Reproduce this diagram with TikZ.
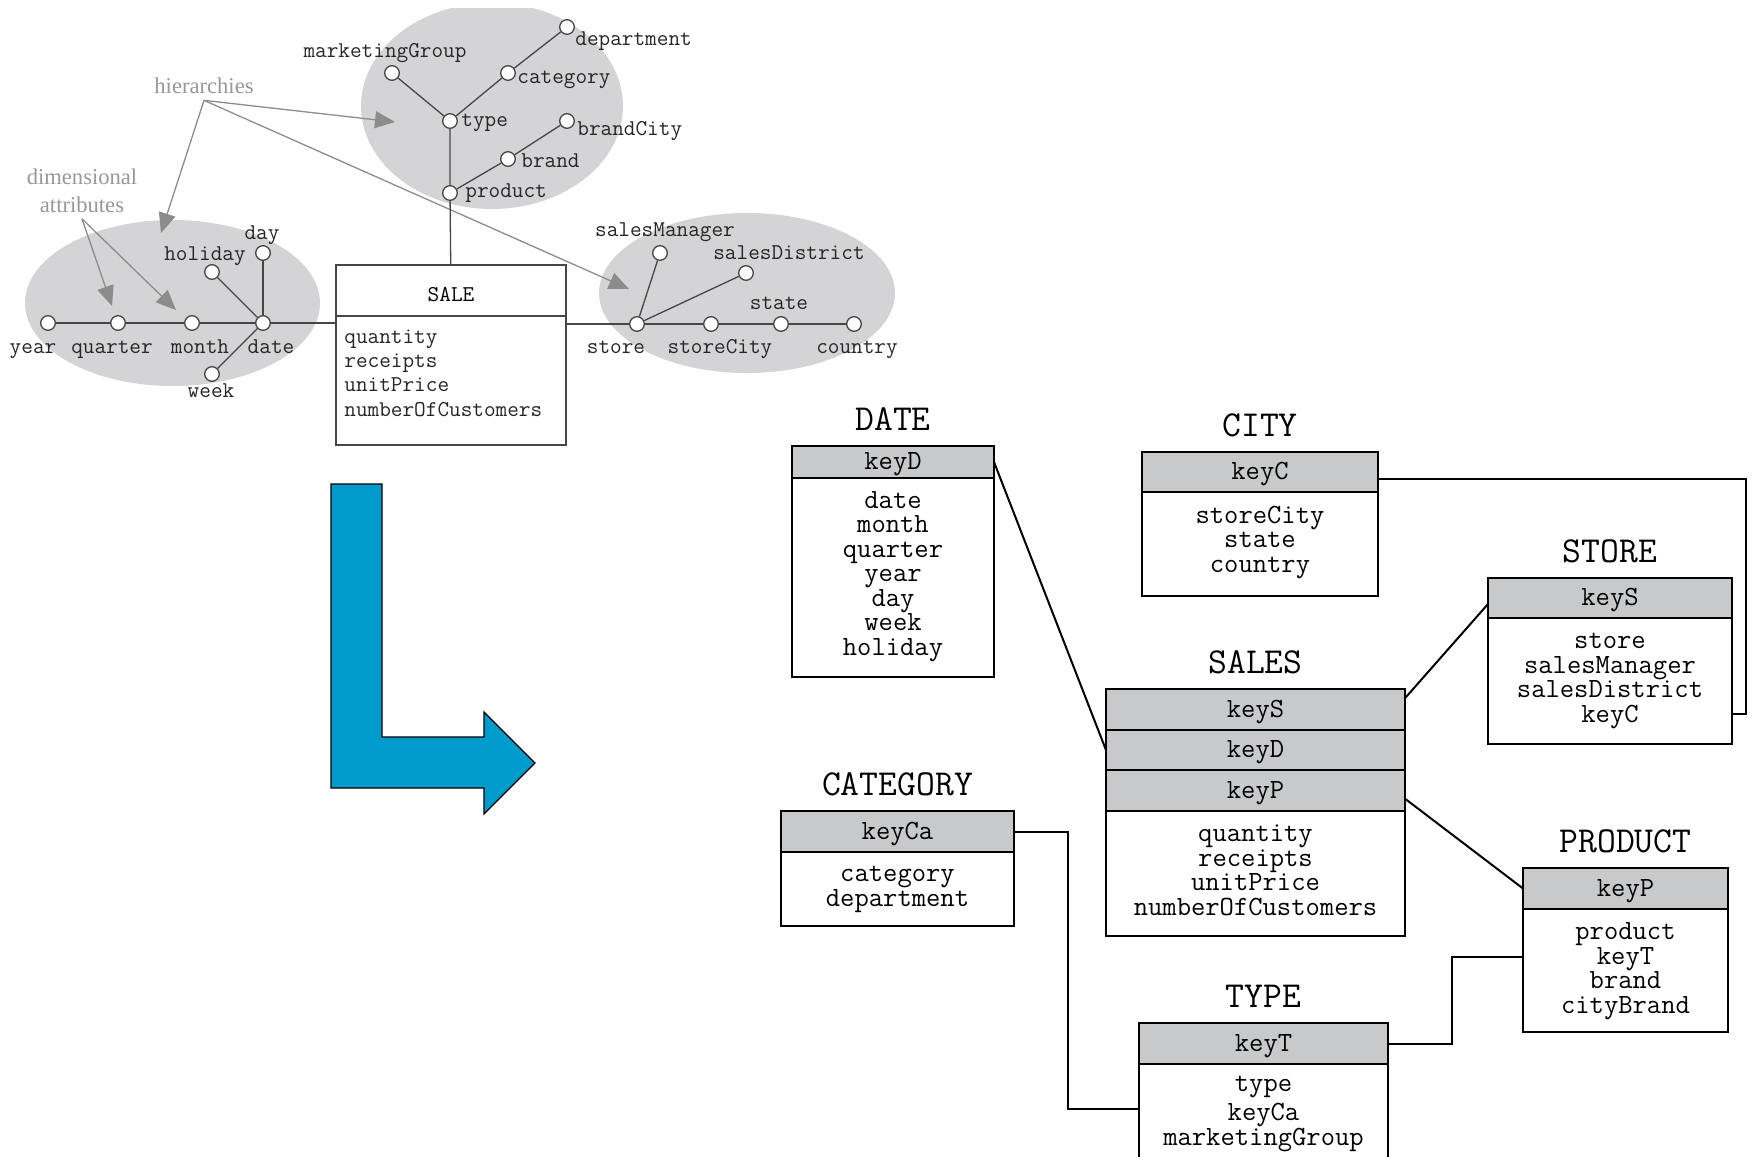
\documentclass[tikz,border=0pt]{standalone}
\usepackage{fontspec}
\newfontfamily\notefont{Liberation Serif}
\usetikzlibrary{arrows.meta, positioning}

\definecolor{blobgrey}{RGB}{212,212,214}
\definecolor{keygrey}{RGB}{200,201,203}
\definecolor{notegrey}{RGB}{152,152,152}
\definecolor{treegrey}{RGB}{70,70,70}
\definecolor{arrowblue}{RGB}{0,154,205}

\tikzset{
  attr/.style={circle, draw=treegrey, fill=white, line width=0.65pt, inner sep=0pt, minimum size=7.3pt},
  lbl/.style={font=\ttfamily\fontsize{11.3}{12.15}\selectfont, text=black!85, inner sep=0pt},
  tree/.style={draw=treegrey, line width=0.65pt},
  note/.style={font=\notefont\fontsize{11.3}{14}\selectfont, text=notegrey, align=center, inner sep=3pt},
  noteline/.style={draw=notegrey!92!black, line width=0.65pt, -{Triangle[length=10pt,width=8.5pt]}},
  keyrow/.style={draw, fill=keygrey, line width=1pt, inner sep=0pt, outer sep=0pt, text height=10.5pt, text depth=3pt, font=\ttfamily\fontsize{13.9}{12.25}\selectfont},
  rows/.style={draw, fill=white, line width=1pt, inner sep=0pt, outer sep=0pt, anchor=north},
  rowtext/.style={inner sep=0pt, anchor=base, align=center, font=\ttfamily\fontsize{13.9}{12.25}\selectfont},
  tabname/.style={inner sep=0pt, font=\ttfamily\fontsize{18.3}{18}\selectfont},
  link/.style={line width=1pt}
}

\begin{document}
\begin{tikzpicture}[x=0.5pt, y=-0.5pt]
    \useasboundingbox (0,0) rectangle (1758,1157);

    % grey hierarchy blobs
    \begin{scope}
        \clip (0,8) rectangle (1758,1157);
        \fill[blobgrey] (492,106) ellipse [x radius=131, y radius=103];
    \end{scope}
    \fill[blobgrey] (172.5,303) ellipse [x radius=147.5, y radius=83];
    \fill[blobgrey] (747,293) ellipse [x radius=148, y radius=80];

    % SALE fact
    \node[draw=treegrey, line width=0.65pt, outer sep=0pt, minimum width=115pt, minimum height=25.5pt, text height=11.4pt, font=\ttfamily\fontsize{11.3}{12}\selectfont] (saleHead) at (451,290.5) {SALE};
    \node[draw=treegrey, line width=0.65pt, outer sep=0pt, minimum width=115pt, minimum height=64.5pt, anchor=north] (saleBody) at (saleHead.south) {};
    \node[lbl, align=left, anchor=base west] (saleMeas) at (344,416) {quantity\\receipts\\unitPrice\\numberOfCustomers};

    % notes
    \node[note] (hier) at (204,86) {hierarchies};
    \node[note] (dimAttr) at (82,190.5) {dimensional\\attributes};
    \coordinate (hierProd) at (395,122);
    \coordinate (hierDate) at (161,233);
    \coordinate (hierStore) at (629,289);
    \coordinate (dimQuarter) at (112,306);
    \coordinate (dimMonth) at (176,310);
    \draw[noteline] (hier.south) -- (hierProd);
    \draw[noteline] (hier.south) -- (hierDate);
    \draw[noteline] (hier.south) -- (hierStore);
    \draw[noteline] (dimAttr.south) -- (dimQuarter);
    \draw[noteline] (dimAttr.south) -- (dimMonth);

    % date hierarchy
    \node[attr] (year) at (48,323) {};
    \node[attr] (quarter) at (118,323) {};
    \node[attr] (month) at (192,323) {};
    \node[attr] (date) at (263,323) {};
    \node[attr] (holiday) at (212,272) {};
    \node[attr] (day) at (263,253) {};
    \node[attr] (week) at (212,374) {};
    \draw[tree] (year) -- (quarter) -- (month) -- (date);
    \draw[tree] (holiday) -- (date);
    \draw[tree] (day) -- (date);
    \draw[tree] (week) -- (date);
    \draw[tree] (date) -- (date -| saleBody.west);
    \node[lbl, anchor=base] (yearTxt) at (33,353) {year};
    \node[lbl, anchor=base] (quarterTxt) at (112,353) {quarter};
    \node[lbl, anchor=base] (monthTxt) at (200,353) {month};
    \node[lbl, anchor=base] (dateTxt) at (271,353) {date};
    \node[lbl] (holidayTxt) at (205,256) {holiday};
    \node[lbl] (dayTxt) at (262,235) {day};
    \node[lbl] (weekTxt) at (211,391) {week};

    % product hierarchy
    \node[attr] (product) at (450,193) {};
    \node[attr] (type) at (450,121) {};
    \node[attr] (marketingGroup) at (392,73) {};
    \node[attr] (category) at (508,73) {};
    \node[attr] (department) at (567,27) {};
    \node[attr] (brand) at (508,159) {};
    \node[attr] (brandCity) at (567,121) {};
    \draw[tree] (saleHead) -- (product) -- (type) -- (marketingGroup);
    \draw[tree] (type) -- (category) -- (department);
    \draw[tree] (product) -- (brand) -- (brandCity);
    \node[lbl] (marketingGroupTxt) at (385,53) {marketingGroup};
    \node[lbl, anchor=west] (departmentTxt) at (575,41) {department};
    \node[lbl, anchor=west] (categoryTxt) at (517,80) {category};
    \node[lbl, anchor=west] (typeTxt) at (461,123) {type};
    \node[lbl, anchor=west] (brandCityTxt) at (577,131) {brandCity};
    \node[lbl, anchor=west] (brandTxt) at (521,161) {brand};
    \node[lbl, anchor=west] (productTxt) at (465,193) {product};

    % store hierarchy
    \node[attr] (store) at (637,324) {};
    \node[attr] (storeCity) at (711,324) {};
    \node[attr] (state) at (781,324) {};
    \node[attr] (country) at (854,324) {};
    \node[attr] (salesManager) at (660,253) {};
    \node[attr] (salesDistrict) at (746,273) {};
    \draw[tree] (store) -- (storeCity) -- (state) -- (country);
    \draw[tree] (store) -- (salesManager);
    \draw[tree] (store) -- (salesDistrict);
    \draw[tree] (store) -- (store -| saleBody.east);
    \node[lbl] (salesManagerTxt) at (665,232) {salesManager};
    \node[lbl] (salesDistrictTxt) at (789,253) {salesDistrict};
    \node[lbl] (stateTxt) at (779,303) {state};
    \node[lbl, anchor=base] (storeTxt) at (616,353) {store};
    \node[lbl, anchor=base] (storeCityTxt) at (720,353) {storeCity};
    \node[lbl, anchor=base] (countryTxt) at (857,353) {country};

    % blue arrow
    \draw[fill=arrowblue, line width=0.6pt] (331,484) -- (382,484) -- (382,737) -- (484,737) -- (484,712)
        -- (535,763) -- (484,814) -- (484,788) -- (331,788) -- cycle;

    % DATE
    \node[keyrow, minimum width=101pt, minimum height=16pt] (dateKey) at (893,462) {keyD};
    \node[rows, minimum width=101pt, minimum height=99.5pt] (dateBody) at (dateKey.south) {};
    \node[rowtext] (dateAttr) at (893,655) {date\\month\\quarter\\year\\day\\week\\holiday};
    \node[tabname, above=7.5pt of dateKey] (dateName) {DATE};

    % CITY
    \node[keyrow, minimum width=118pt, minimum height=20pt] (cityKey) at (1260,472) {keyC};
    \node[rows, minimum width=118pt, minimum height=52pt] (cityBody) at (cityKey.south) {};
    \node[rowtext] (cityAttr) at (1260,572) {storeCity\\state\\country};
    \node[tabname, above=7.5pt of cityKey] (cityName) {CITY};

    % STORE
    \node[keyrow, minimum width=122pt, minimum height=20pt] (storeKey) at (1610,598) {keyS};
    \node[rows, minimum width=122pt, minimum height=63pt] (storeBody) at (storeKey.south) {};
    \node[rowtext] (storeAttr) at (1610,722) {store\\salesManager\\salesDistrict\\keyC};
    \node[tabname, above=7.5pt of storeKey] (storeName) {STORE};

    % SALES
    \node[keyrow, minimum width=149.5pt, minimum height=20.3pt] (salesKeyS) at (1255.5,709.5) {keyS};
    \node[keyrow, minimum width=149.5pt, minimum height=20.3pt, below=0pt of salesKeyS] (salesKeyD) {keyD};
    \node[keyrow, minimum width=149.5pt, minimum height=20.3pt, below=0pt of salesKeyD] (salesKeyP) {keyP};
    \node[rows, minimum width=149.5pt, minimum height=62.5pt] (salesBody) at (salesKeyP.south) {};
    \node[rowtext] (salesAttr) at (1255.5,915) {quantity\\receipts\\unitPrice\\numberOfCustomers};
    \node[tabname, above=7.5pt of salesKeyS] (salesName) {SALES};

    % CATEGORY
    \node[keyrow, minimum width=116.5pt, minimum height=20.5pt] (catKey) at (897.5,831.5) {keyCa};
    \node[rows, minimum width=116.5pt, minimum height=37pt] (catBody) at (catKey.south) {};
    \node[rowtext] (catAttr) at (897.5,906) {category\\department};
    \node[tabname, above=7.5pt of catKey] (catName) {CATEGORY};

    % PRODUCT
    \node[keyrow, minimum width=102.5pt, minimum height=20.5pt] (prodKey) at (1625.5,888.5) {keyP};
    \node[rows, minimum width=102.5pt, minimum height=61.5pt] (prodBody) at (prodKey.south) {};
    \node[rowtext] (prodAttr) at (1625.5,1013) {product\\keyT\\brand\\cityBrand};
    \node[tabname, above=7.5pt of prodKey] (prodName) {PRODUCT};

    % TYPE
    \node[keyrow, minimum width=124.5pt, minimum height=20.5pt] (typeKey) at (1263.5,1043.5) {keyT};
    \node[rows, minimum width=124.5pt, minimum height=50pt] (typeBody) at (typeKey.south) {};
    \node[rowtext] (typeAttr) at (1263.5,1145) {type\\[2.25pt]keyCa\\marketingGroup};
    \node[tabname, above=7.5pt of typeKey] (typeName) {TYPE};

    % foreign keys
    \coordinate (storeKeyC) at (1732,714);
    \coordinate (typeKeyCa) at (1139,1109);
    \coordinate (prodKeyT) at (1523,957);
    \draw[link] (dateKey.east) -- (salesKeyD.west);
    \draw[link] ([yshift=-3.5pt]cityKey.east) -- ++(368,0) |- (storeKeyC);
    \draw[link] ([yshift=-4.5pt]salesKeyS.north east) -- ([yshift=-3pt]storeKey.west);
    \draw[link] ([yshift=-4pt]salesKeyP.east) -- (prodKey.west);
    \draw[link] (catKey.east) -- ++(54,0) |- (typeKeyCa);
    \draw[link] (typeKey.east) -- ++(64,0) |- (prodKeyT);
\end{tikzpicture}
\end{document}
